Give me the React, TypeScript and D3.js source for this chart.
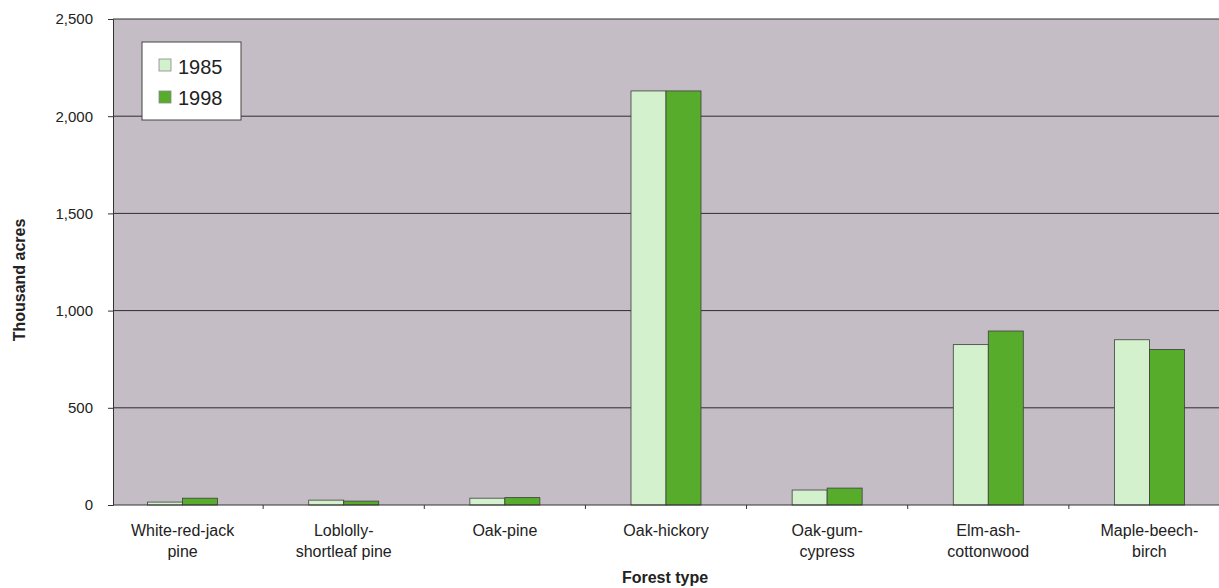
import React, { useEffect, useRef } from 'react';
import * as d3 from 'd3';

const categories = [
  ['White-red-jack', 'pine'],
  ['Loblolly-', 'shortleaf pine'],
  ['Oak-pine'],
  ['Oak-hickory'],
  ['Oak-gum-', 'cypress'],
  ['Elm-ash-', 'cottonwood'],
  ['Maple-beech-', 'birch'],
];
const years = ['1985', '1998'];
const values1985 = [15, 25, 35, 2130, 77, 825, 850];
const values1998 = [35, 20, 38, 2130, 87, 895, 800];
const yTicks = [0, 500, 1000, 1500, 2000, 2500];

const W = 1219;
const H = 588;
const colors = ['#d3f1cc', '#57ac2b'];

const App: React.FC = () => {
  const svgRef = useRef<SVGSVGElement>(null);

  useEffect(() => {
    if (!svgRef.current) return;
    const svg = d3.select(svgRef.current);
    svg.selectAll('*').remove();

    const left = 113;
    const right = 1219;
    const top = 19;
    const bottom = 505;
    const font = 'Liberation Sans, Arial, sans-serif';

    const x = d3.scaleBand<number>()
      .domain(d3.range(categories.length))
      .range([102, 1230]);
    const inner = d3.scaleBand<string>()
      .domain(years)
      .range([x.bandwidth() / 2 - 35, x.bandwidth() / 2 + 35]);
    const y = d3.scaleLinear().domain([0, 2500]).range([bottom, top]);

    svg.append('defs').append('clipPath').attr('id', 'plot')
      .append('rect').attr('x', left).attr('y', 0).attr('width', right - left).attr('height', H);

    svg.append('rect')
      .attr('x', left).attr('y', top)
      .attr('width', right - left).attr('height', bottom - top)
      .attr('fill', '#c5bdc5');

    // gridlines
    svg.append('g').selectAll('line')
      .data(yTicks.slice(1))
      .enter().append('line')
      .attr('x1', left).attr('x2', right)
      .attr('y1', d => y(d)).attr('y2', d => y(d))
      .attr('stroke', '#2e2e2e').attr('stroke-width', 1);

    // bars
    const series = [values1985, values1998];
    const bars = svg.append('g');
    series.forEach((vals, si) => {
      bars.selectAll(`.b${si}`)
        .data(vals)
        .enter().append('rect')
        .attr('x', (_d, i) => (x(i) as number) + (inner(years[si]) as number))
        .attr('y', d => y(d))
        .attr('width', inner.bandwidth())
        .attr('height', d => bottom - y(d))
        .attr('fill', colors[si])
        .attr('stroke', '#3f3f3f')
        .attr('stroke-width', 0.8);
    });

    // y axis
    const yAxis = svg.append('g')
      .attr('transform', `translate(${left},0)`)
      .call(d3.axisLeft(y).tickValues(yTicks).tickSize(5).tickPadding(15)
        .tickFormat(d => d3.format(',')(d as number)));
    yAxis.select('.domain').attr('stroke', '#333');
    yAxis.selectAll('line').attr('stroke', '#333');
    yAxis.selectAll('text').attr('font-family', font).attr('font-size', 15).attr('fill', '#222');

    // x axis
    const xg = svg.append('g').attr('clip-path', 'url(#plot)');
    xg.append('line')
      .attr('x1', left).attr('x2', right).attr('y1', bottom).attr('y2', bottom)
      .attr('stroke', '#333');
    xg.selectAll('.xt')
      .data(d3.range(categories.length + 1))
      .enter().append('line')
      .attr('x1', i => 102 + i * x.step()).attr('x2', i => 102 + i * x.step())
      .attr('y1', bottom).attr('y2', bottom + 4)
      .attr('stroke', '#333');

    const labels = svg.append('g');
    categories.forEach((lines, i) => {
      const cx = (x(i) as number) + x.bandwidth() / 2;
      const t = labels.append('text')
        .attr('text-anchor', 'middle')
        .attr('font-family', font).attr('font-size', 16).attr('fill', '#222');
      lines.forEach((ln, k) => {
        t.append('tspan').attr('x', cx).attr('y', 536 + k * 21).text(ln);
      });
    });

    svg.append('text')
      .attr('x', 665).attr('y', 583)
      .attr('text-anchor', 'middle')
      .attr('font-family', font).attr('font-size', 16).attr('font-weight', 'bold')
      .attr('fill', '#222')
      .text('Forest type');

    svg.append('text')
      .attr('transform', `translate(25,${(top + bottom) / 2 + 18}) rotate(-90)`)
      .attr('text-anchor', 'middle')
      .attr('font-family', font).attr('font-size', 16).attr('font-weight', 'bold')
      .attr('fill', '#222')
      .text('Thousand acres');

    // legend
    const lg = svg.append('g').attr('transform', 'translate(142,42)');
    lg.append('rect')
      .attr('width', 99).attr('height', 78)
      .attr('fill', '#fff').attr('stroke', '#444').attr('stroke-width', 1);
    years.forEach((yr, i) => {
      lg.append('rect')
        .attr('x', 17).attr('y', 17 + i * 32)
        .attr('width', 12).attr('height', 12)
        .attr('fill', colors[i]).attr('stroke', '#888').attr('stroke-width', 0.8);
      lg.append('text')
        .attr('x', 36).attr('y', 32 + i * 31)
        .attr('font-family', font).attr('font-size', 20).attr('fill', '#222')
        .text(yr);
    });
  }, []);

  return (
    <svg
      ref={svgRef}
      width={W}
      height={H}
      style={{ position: 'absolute', left: 0, top: 0, background: '#fff' }}
    />
  );
};

export default App;
